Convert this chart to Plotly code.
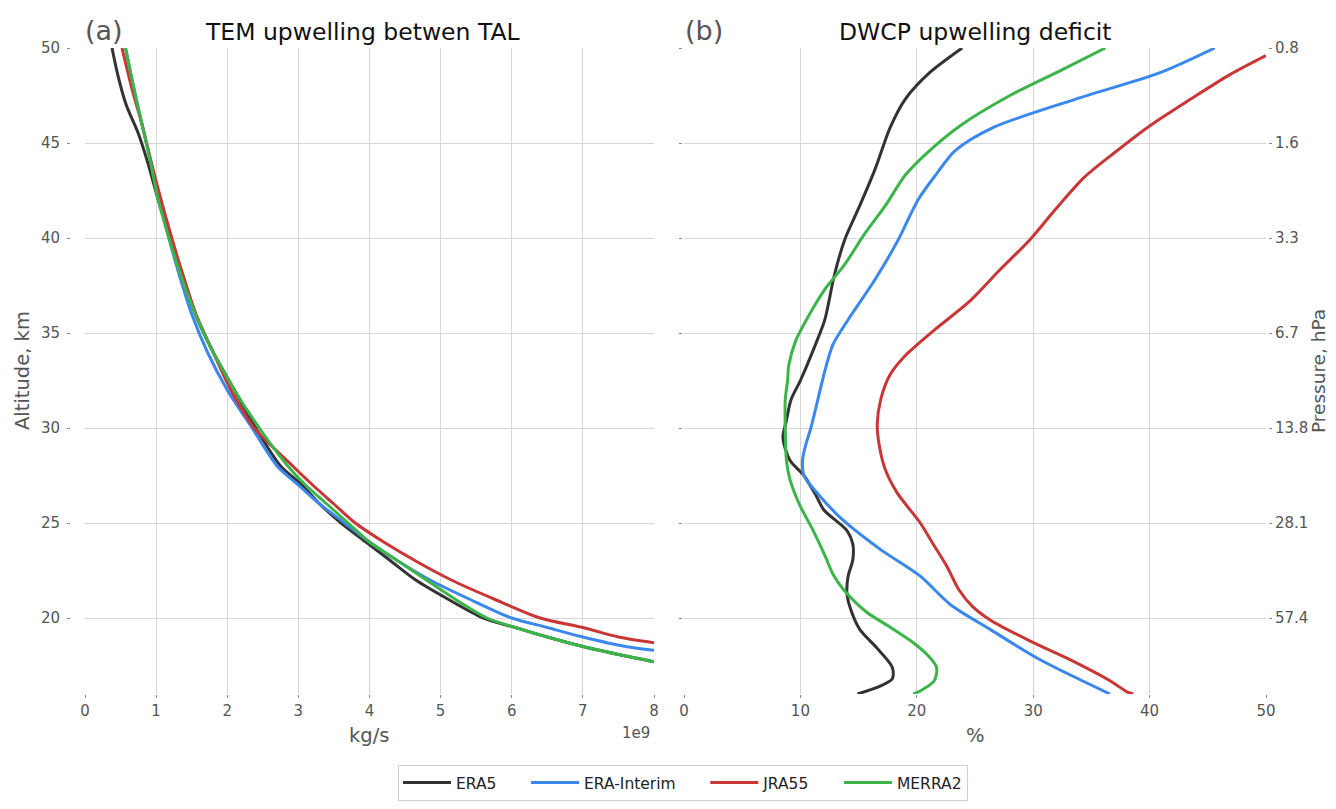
import plotly.graph_objects as go

# ---------------- data ----------------
series_names = ["ERA5", "ERA-Interim", "JRA55", "MERRA2"]
colors = ["#333333", "#3a87ee", "#c83636", "#3bb54a"]

# panel (a): TEM upwelling (units of 1e9 kg/s) vs altitude (km)
era5_a_alt = [50, 48.6, 47, 45.5, 44, 42, 40, 38, 36, 34, 32, 30, 28, 27, 26, 25, 24, 23, 22, 21, 20, 19.5, 19, 18.5, 18, 17.7]
era5_a_val = [0.38, 0.46, 0.58, 0.75, 0.88, 1.03, 1.2, 1.38, 1.55, 1.8, 2.1, 2.4, 2.75, 3.05, 3.3, 3.6, 3.95, 4.3, 4.65, 5.1, 5.6, 6.05, 6.5, 7.0, 7.6, 8.0]

erai_a_alt = [50, 48, 46, 44, 42, 40, 38, 36, 34, 32, 30, 28, 27, 26, 25, 24, 23, 22, 21, 20, 19.5, 19, 18.5, 18.3]
erai_a_val = [0.57, 0.68, 0.8, 0.93, 1.05, 1.18, 1.33, 1.5, 1.72, 2.0, 2.35, 2.7, 3.0, 3.3, 3.65, 4.0, 4.4, 4.85, 5.4, 6.0, 6.5, 7.0, 7.6, 8.0]

jra55_a_alt = [50, 48, 46, 44, 42, 40, 38, 36, 34, 32, 30, 28, 27, 26, 25, 24, 23, 22, 21, 20, 19.5, 19, 18.7]
jra55_a_val = [0.52, 0.65, 0.8, 0.93, 1.07, 1.22, 1.38, 1.56, 1.8, 2.05, 2.38, 2.92, 3.2, 3.5, 3.8, 4.2, 4.65, 5.15, 5.75, 6.4, 7.0, 7.5, 8.0]

merra2_a_alt = [50, 48, 46, 44, 42, 40, 38, 36, 34, 32, 30, 28, 27, 26, 25, 24, 23, 22, 21, 20, 19.5, 19, 18.5, 18, 17.7]
merra2_a_val = [0.57, 0.68, 0.8, 0.92, 1.03, 1.18, 1.35, 1.55, 1.8, 2.1, 2.45, 2.85, 3.1, 3.4, 3.7, 4.0, 4.4, 4.8, 5.2, 5.65, 6.05, 6.5, 7.0, 7.6, 8.0]

# panel (b): DWCP upwelling deficit (%) vs altitude (km)
era5_b_alt = [50, 48.7, 47.3, 45.8, 43.6, 41.7, 39.9, 38.0, 35.7, 34.4, 32.5, 31.5, 30.4, 29.5, 28.3, 27.5, 26.5, 25.7, 24.6, 23.9, 23.05, 22.2, 21.3, 20.5, 19.4, 18.4, 17.4, 16.8, 16.4, 16.0]
era5_b_val = [23.9, 21.1, 19.0, 17.7, 16.4, 15.1, 13.8, 12.9, 12.1, 11.3, 10.0, 9.2, 8.8, 8.5, 9.1, 10.3, 11.3, 12.0, 14.0, 14.5, 14.5, 14.1, 14.0, 14.3, 15.1, 16.6, 17.9, 17.9, 16.8, 14.9]

erai_b_alt = [50, 48.7, 47.3, 45.8, 44.6, 43.3, 42, 39.9, 37.8, 35.7, 34.4, 33, 31.5, 30, 29.2, 28.4, 27.5, 26.4, 25.3, 23.6, 22.2, 20.7, 19.4, 17.8, 16]
erai_b_val = [45.6, 40.9, 33.6, 26.5, 23.3, 21.6, 20.1, 18.4, 16.4, 14.1, 12.8, 12.1, 11.5, 10.9, 10.5, 10.2, 10.3, 11.7, 13.4, 16.9, 20.3, 22.9, 26.3, 30.6, 36.6]

jra55_b_alt = [49.6, 48.6, 47.3, 45.9, 44.5, 43.2, 41.5, 39.9, 38.3, 36.7, 35.2, 33.8, 32.8, 31.5, 30.2, 29.0, 27.8, 26.6, 25.0, 24.0, 22.7, 21.5, 20.6, 19.9, 18.8, 17.8, 16.7, 16.1, 16.0]
jra55_b_val = [50.0, 46.9, 43.5, 40.0, 37.0, 34.4, 31.9, 29.7, 27.1, 24.6, 21.6, 19.0, 17.7, 16.9, 16.6, 16.8, 17.3, 18.3, 20.3, 21.3, 22.6, 23.6, 24.8, 26.3, 29.7, 33.2, 36.6, 38.1, 38.6]

merra2_b_alt = [50, 48.8, 47.5, 45.9, 44.6, 43.3, 41.7, 40.2, 38.6, 37.3, 35.9, 34.6, 33.3, 32.5, 31.5, 29.9, 28.3, 27.3, 26.0, 24.6, 23.3, 22.3, 21.5, 20.3, 19.6, 18.7, 18.0, 17.4, 16.7, 16.2, 16.0]
merra2_b_val = [36.2, 32.3, 28.0, 23.7, 21.1, 19.0, 17.3, 15.5, 13.8, 12.1, 10.7, 9.6, 9.0, 8.9, 8.7, 8.7, 8.8, 9.1, 9.9, 11.1, 12.1, 12.8, 13.7, 15.7, 17.5, 19.7, 21.0, 21.7, 21.5, 20.4, 19.7]

alt_ticks = [20, 25, 30, 35, 40, 45, 50]
pressure_labels = ["57.4", "28.1", "13.8", "6.7", "3.3", "1.6", "0.8"]
tem_ticks = [0, 1, 2, 3, 4, 5, 6, 7, 8]
pct_ticks = [0, 10, 20, 30, 40, 50]

panel_a = [(era5_a_val, era5_a_alt), (erai_a_val, erai_a_alt), (jra55_a_val, jra55_a_alt), (merra2_a_val, merra2_a_alt)]
panel_b = [(era5_b_val, era5_b_alt), (erai_b_val, erai_b_alt), (jra55_b_val, jra55_b_alt), (merra2_b_val, merra2_b_alt)]

# ---------------- figure ----------------
# the page adds an 8px body margin, so the figure is 16px smaller than the window
OFF = 8
W, H = 1336 - 2 * OFF, 809 - 2 * OFF
FONT = "DejaVu Sans"
TICKC = "#555555"
GRIDC = "#d6d6d6"
NB = "\u00a0"


def px_x(p):
    return (p - OFF) / W


def px_y(p):
    return 1 - (p - OFF) / H


fig = go.Figure()
for i, name in enumerate(series_names):
    xv, yv = panel_a[i]
    label = name + (NB * 5 if i < len(series_names) - 1 else "")
    fig.add_trace(go.Scatter(x=xv, y=yv, mode="lines", name=label,
                             line=dict(color=colors[i], width=3, shape="spline", smoothing=0.8),
                             xaxis="x", yaxis="y", legendgroup=name))
for i, name in enumerate(series_names):
    xv, yv = panel_b[i]
    fig.add_trace(go.Scatter(x=xv, y=yv, mode="lines", name=name, showlegend=False,
                             line=dict(color=colors[i], width=3, shape="spline", smoothing=0.8),
                             xaxis="x2", yaxis="y2", legendgroup=name))
# invisible trace so the right-hand pressure axis is drawn
fig.add_trace(go.Scatter(x=[None], y=[None], xaxis="x2", yaxis="y3", showlegend=False, hoverinfo="skip"))

tickfont = dict(family=FONT, size=15, color=TICKC)
ax_common = dict(showgrid=True, gridcolor=GRIDC, gridwidth=1, zeroline=False, showline=False,
                 ticks="outside", ticklen=3, tickcolor="#888888", tickwidth=1, automargin=False,
                 tickfont=tickfont)

y_dom = [px_y(694), px_y(48)]
fig.update_layout(
    width=W, height=H, margin=dict(l=0, r=0, t=0, b=0, autoexpand=False),
    paper_bgcolor="white", plot_bgcolor="white",
    font=dict(family=FONT, color=TICKC),
    xaxis=dict(domain=[px_x(85), px_x(654)], range=[0, 8], tickvals=tem_ticks, anchor="y", **ax_common),
    yaxis=dict(domain=y_dom, range=[16, 50], tickvals=alt_ticks, anchor="free", position=px_x(70),
               ticklabelstandoff=4, **ax_common),
    xaxis2=dict(domain=[px_x(684), px_x(1266)], range=[0, 50], tickvals=pct_ticks, anchor="y2", **ax_common),
    yaxis2=dict(domain=y_dom, range=[16, 50], tickvals=alt_ticks, anchor="free", position=px_x(682),
                showticklabels=False, **ax_common),
    yaxis3=dict(domain=y_dom, range=[16, 50], tickvals=alt_ticks, ticktext=pressure_labels,
                overlaying="y2", side="right", anchor="free", position=px_x(1268),
                showgrid=False, zeroline=False, showline=False,
                ticks="outside", ticklen=3, tickcolor="#888888", automargin=False, tickfont=tickfont),
    legend=dict(orientation="h", x=px_x(683), xanchor="center", y=0, yanchor="bottom",
                bordercolor="#d0d0d0", borderwidth=1, bgcolor="white", itemwidth=48,
                font=dict(family=FONT, size=15.5, color="#222222")),
    showlegend=True,
)

annos = [
    dict(text="TEM upwelling betwen TAL", x=px_x(362), y=px_y(32), size=23.5, color="#111111", angle=0),
    dict(text="DWCP upwelling deficit", x=px_x(975), y=px_y(32), size=23.5, color="#111111", angle=0),
    dict(text="(a)", x=px_x(104), y=px_y(30), size=27, color="#555555", angle=0),
    dict(text="(b)", x=px_x(704), y=px_y(30), size=27, color="#555555", angle=0),
    dict(text="1e9", x=px_x(636), y=px_y(733), size=15, color=TICKC, angle=0),
    dict(text="kg/s", x=px_x(369), y=px_y(735), size=19.5, color=TICKC, angle=0),
    dict(text="%", x=px_x(975), y=px_y(735), size=19.5, color=TICKC, angle=0),
    dict(text="Altitude, km", x=px_x(22), y=px_y(371), size=19.5, color=TICKC, angle=-90),
    dict(text="Pressure, hPa", x=px_x(1318), y=px_y(371), size=18.5, color=TICKC, angle=-90),
]
for a in annos:
    fig.add_annotation(xref="paper", yref="paper", showarrow=False, xanchor="center", yanchor="middle",
                       text=a["text"], x=a["x"], y=a["y"], textangle=a["angle"],
                       font=dict(family=FONT, size=a["size"], color=a["color"]))

fig.write_html("out.html")
